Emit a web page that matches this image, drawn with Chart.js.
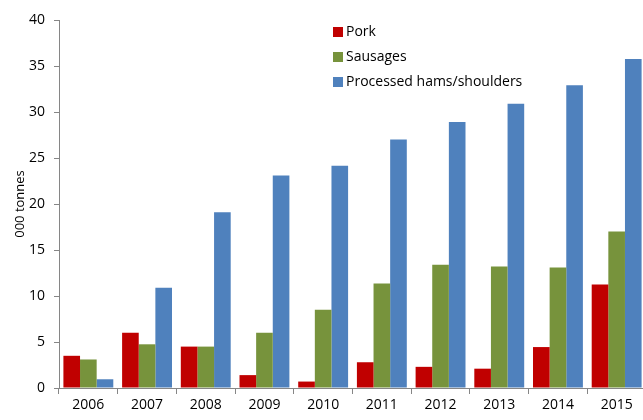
<!DOCTYPE html>
<html>
<head>
<meta charset="utf-8">
<script src="https://cdn.jsdelivr.net/npm/chart.js@4/dist/chart.umd.min.js"></script>
<style>
  html, body { margin: 0; padding: 0; background: #fff; overflow: hidden; }
  #wrap { width: 650px; height: 420px; position: relative; }
</style>
</head>
<body>
<div id="wrap"><canvas id="exports"></canvas></div>
<script>
const years = ['2006', '2007', '2008', '2009', '2010', '2011', '2012', '2013', '2014', '2015'];
const pork = [3.5, 6.0, 4.5, 1.4, 0.7, 2.8, 2.3, 2.1, 4.45, 11.25];
const sausages = [3.1, 4.75, 4.5, 6.0, 8.5, 11.35, 13.4, 13.2, 13.1, 17.0];
const hams = [0.95, 10.9, 19.1, 23.1, 24.15, 27.0, 28.9, 30.9, 32.9, 35.75];
const yTicks = [0, 5, 10, 15, 20, 25, 30, 35, 40];

const FONT = "'Open Sans', 'Liberation Sans', sans-serif";
const AXIS = '#868686';

// legend drawn inside the plot, top middle
const insideLegend = {
  id: 'insideLegend',
  afterDraw(chart) {
    const ctx = chart.ctx;
    ctx.save();
    ctx.font = '14px ' + FONT;
    ctx.textBaseline = 'middle';
    chart.data.datasets.forEach((ds, i) => {
      const y = 32 + i * 25;
      ctx.fillStyle = ds.backgroundColor;
      ctx.fillRect(333, y - 5, 10, 10);
      ctx.fillStyle = '#000';
      ctx.fillText(ds.label, 346, y);
    });
    ctx.restore();
  }
};

new Chart(document.getElementById('exports'), {
  type: 'bar',
  data: {
    labels: years,
    datasets: [
      { label: 'Pork', data: pork, backgroundColor: '#C00000' },
      { label: 'Sausages', data: sausages, backgroundColor: '#77933C' },
      { label: 'Processed hams/shoulders', data: hams, backgroundColor: '#4F81BD' }
    ]
  },
  plugins: [insideLegend],
  options: {
    responsive: true,
    maintainAspectRatio: false,
    animation: false,
    layout: { padding: { top: 20, right: 4, left: 0, bottom: 0 } },
    datasets: {
      bar: { categoryPercentage: 0.85, barPercentage: 1.0 }
    },
    plugins: {
      legend: { display: false },
      tooltip: { enabled: false }
    },
    scales: {
      x: {
        offset: true,
        grid: {
          offset: true,
          drawOnChartArea: false,
          tickLength: 6,
          color: AXIS
        },
        border: { color: AXIS, width: 1 },
        ticks: {
          color: '#000',
          padding: 3,
          maxRotation: 0,
          font: { family: FONT, size: 14 }
        },
        afterFit(axis) { axis.height = 32; }
      },
      y: {
        min: 0,
        max: 40,
        afterBuildTicks(axis) { axis.ticks = yTicks.map(v => ({ value: v })); },
        grid: {
          drawOnChartArea: false,
          tickLength: 5,
          color: AXIS
        },
        border: { color: AXIS, width: 1 },
        ticks: {
          color: '#000',
          padding: 9,
          font: { family: FONT, size: 14 }
        },
        title: {
          display: true,
          text: '000 tonnes',
          color: '#000',
          padding: { top: 12, bottom: 0 },
          font: { family: FONT, size: 13 }
        },
        afterFit(axis) { axis.width = 59; }
      }
    }
  }
});
</script>
</body>
</html>
